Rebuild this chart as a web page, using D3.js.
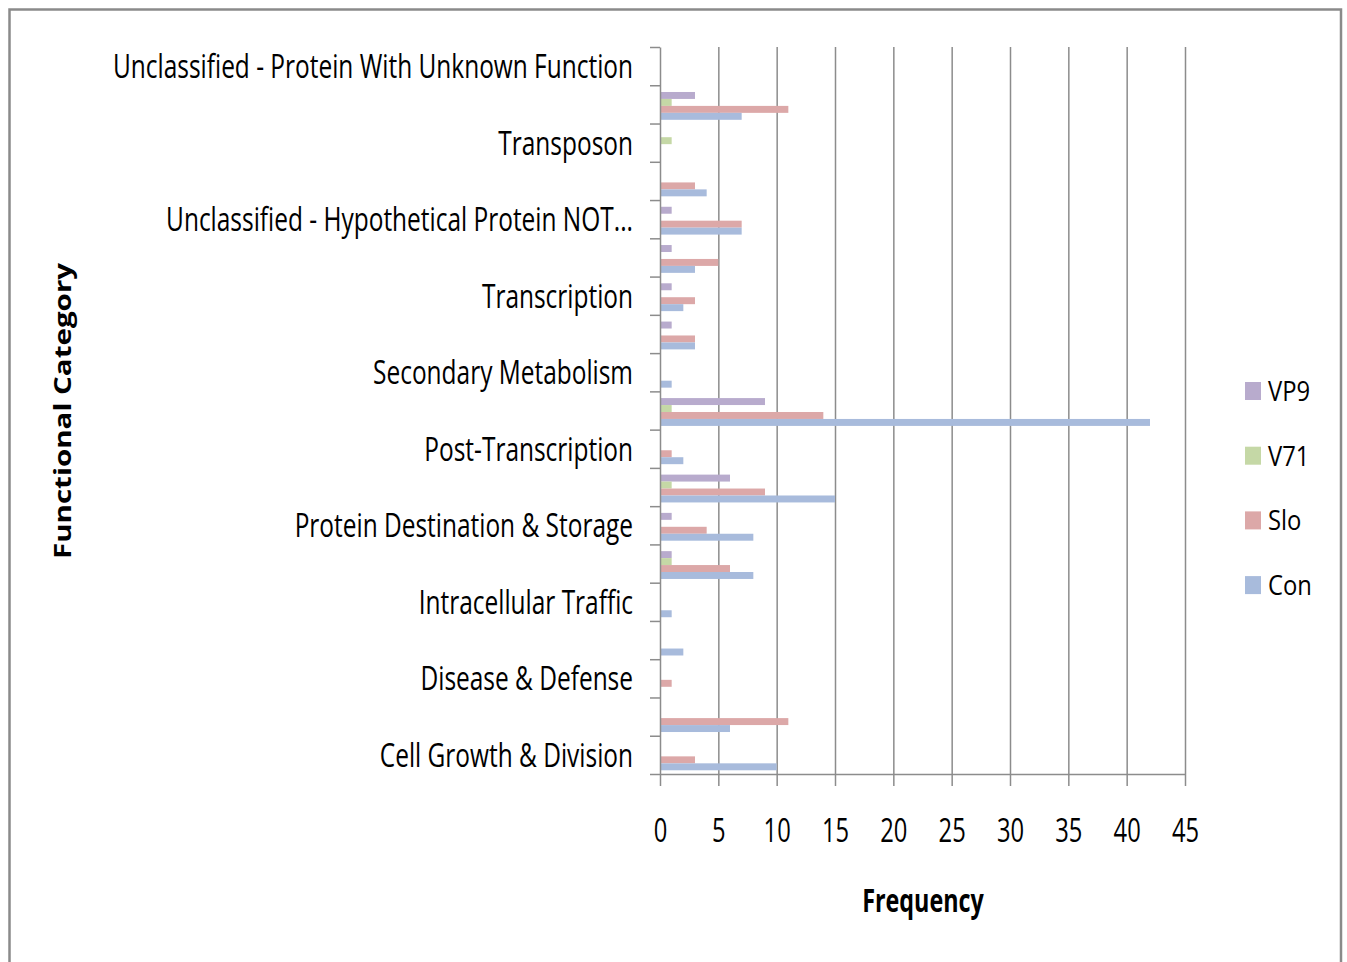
<!DOCTYPE html>
<html>
<head>
<meta charset="utf-8">
<script src="https://cdn.jsdelivr.net/npm/d3@7"></script>
<style>
  body { margin: 0; background: #fff; }
  svg text { font-family: "Open Sans", sans-serif; fill: #000; }
</style>
</head>
<body>
<div id="chart"></div>
<script>
// categories, top to bottom (only every other one gets a visible label, like the original)
const categories = [
	"Unclassified - Protein With Unknown Function",
	"Unclassified - Classification Not Yet Clear-Cut",
	"Transposon",
	"Transporters",
	"Unclassified - Hypothetical Protein NOT...",
	"Signal Transduction",
	"Transcription",
	"Protein Synthesis",
	"Secondary Metabolism",
	"Protein Activity Regulation",
	"Post-Transcription",
	"Metabolism",
	"Protein Destination & Storage",
	"Energy",
	"Intracellular Traffic",
	"Cell Structure",
	"Disease & Defense",
	"Cellular Communication",
	"Cell Growth & Division"
];

// series, drawn top to bottom inside each category
const seriesNames = ["VP9", "V71", "Slo", "Con"];
const VP9 = [0, 3, 0, 0, 1, 1, 1, 1, 0, 9, 0, 6, 1, 1, 0, 0, 0, 0, 0];
const V71 = [0, 1, 1, 0, 0, 0, 0, 0, 0, 1, 0, 1, 0, 1, 0, 0, 0, 0, 0];
const Slo = [0, 11, 0, 3, 7, 5, 3, 3, 0, 14, 1, 9, 4, 6, 0, 0, 1, 11, 3];
const Con = [0, 7, 0, 4, 7, 3, 2, 3, 1, 42, 2, 15, 8, 8, 1, 2, 0, 6, 10];
const xTicks = [0, 5, 10, 15, 20, 25, 30, 35, 40, 45];

const colors = { VP9: "#b8abcd", V71: "#c5d8a6", Slo: "#dca8a8", Con: "#a8bbdc" };
const seriesData = { VP9, V71, Slo, Con };

const W = 1347, H = 962;
const plotLeft = 660, plotRight = 1185, plotTop = 47, plotBottom = 774;
const sx = 0.73; // the original text is horizontally squeezed

const svg = d3.select("#chart").append("svg")
	.attr("width", W)
	.attr("height", H);

// outer frame
svg.append("rect")
	.attr("x", 9.5).attr("y", 9.5)
	.attr("width", 1331.5).attr("height", 1000)
	.attr("fill", "none")
	.attr("stroke", "#8a8a8a")
	.attr("stroke-width", 2.5);

const x = d3.scaleLinear().domain([0, 45]).range([plotLeft, plotRight]);
const y = d3.scaleBand().domain(categories).range([plotTop, plotBottom]).padding(0);
const yInner = d3.scaleBand().domain(seriesNames).range([1.5, y.bandwidth() + 1.5])
	.paddingInner(0).paddingOuter(0.75);

// vertical gridlines
svg.append("g")
	.attr("transform", `translate(0, ${plotBottom})`)
	.call(d3.axisBottom(x).tickValues(xTicks.slice(1)).tickSize(-(plotBottom - plotTop)).tickFormat(""))
	.call(g => g.select(".domain").remove())
	.selectAll("line")
	.attr("stroke", "#8c8c8c")
	.attr("stroke-width", 1.5);

// bars
const rows = categories.map((c, i) => ({ cat: c, vals: seriesNames.map(s => ({ s, v: seriesData[s][i] })) }));

svg.append("g").selectAll("g")
	.data(rows)
	.join("g")
	.attr("transform", d => `translate(0, ${y(d.cat)})`)
	.selectAll("rect")
	.data(d => d.vals.filter(e => e.v > 0))
	.join("rect")
	.attr("x", x(0))
	.attr("y", d => yInner(d.s))
	.attr("width", d => x(d.v) - x(0))
	.attr("height", yInner.bandwidth())
	.attr("fill", d => colors[d.s]);

// x axis
const xAxis = svg.append("g")
	.attr("transform", `translate(0, ${plotBottom})`)
	.call(d3.axisBottom(x).tickValues(xTicks).tickSize(12).tickSizeOuter(0).tickFormat(d3.format("d")));
xAxis.select(".domain").attr("stroke", "#8c8c8c").attr("stroke-width", 1.5);
xAxis.selectAll("line").attr("stroke", "#8c8c8c").attr("stroke-width", 1.5);
xAxis.selectAll("text")
	.attr("y", 0).attr("dy", null)
	.attr("transform", `translate(0, 68) scale(0.72, 1)`)
	.style("font-size", "33px");

// y axis: boundary ticks
const yEdge = d3.scaleLinear().domain([0, categories.length]).range([plotTop, plotBottom]);
const yTickAxis = svg.append("g")
	.attr("transform", `translate(${plotLeft}, 0)`)
	.call(d3.axisLeft(yEdge).tickValues(d3.range(categories.length + 1)).tickSize(10).tickSizeOuter(0).tickFormat(""));
yTickAxis.select(".domain").attr("stroke", "#8c8c8c").attr("stroke-width", 1.5);
yTickAxis.selectAll("line").attr("stroke", "#8c8c8c").attr("stroke-width", 1.5);

// y axis: category labels (every other)
const yAxis = svg.append("g")
	.attr("transform", `translate(${plotLeft}, 0)`)
	.call(d3.axisLeft(y).tickSize(0).tickFormat((d, i) => i % 2 === 0 ? d : ""));
yAxis.select(".domain").remove();
yAxis.selectAll("text")
	.attr("x", 0)
	.attr("dy", "0.36em")
	.attr("transform", `translate(-27, 0) scale(${sx}, 1)`)
	.style("font-size", "33.5px");

// axis titles
svg.append("text")
	.attr("transform", `translate(923, 912) scale(0.73, 1)`)
	.attr("text-anchor", "middle")
	.style("font-size", "32px")
	.style("font-weight", "bold")
	.text("Frequency");

svg.append("text")
	.attr("transform", `translate(71, 411) rotate(-90) scale(1.23, 1)`)
	.attr("text-anchor", "middle")
	.style("font-size", "24px")
	.style("font-weight", "bold")
	.text("Functional Category");

// legend
const legend = svg.append("g").selectAll("g")
	.data(seriesNames)
	.join("g")
	.attr("transform", (d, i) => `translate(1245, ${391 + i * 64.7})`);

legend.append("rect")
	.attr("x", 0).attr("y", -9)
	.attr("width", 16).attr("height", 18)
	.attr("fill", d => colors[d]);

legend.append("text")
	.attr("transform", `translate(23, 10) scale(0.85, 1)`)
	.style("font-size", "28px")
	.text(d => d);
</script>
</body>
</html>
